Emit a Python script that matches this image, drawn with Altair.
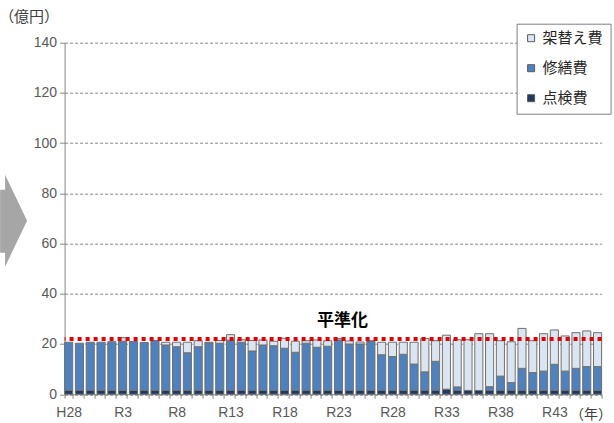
import altair as alt
import pandas as pd

# Fiscal years (Heisei 28 .. Reiwa 47)
years = ["H28", "H29", "H30"] + [f"R{i}" for i in range(1, 48)]
shown_labels = ["H28", "R3", "R8", "R13", "R18", "R23", "R28", "R33", "R38", "R43"]

# Costs per year (億円)
inspection = [1.5] * 50
inspection[years.index("R33")] = 2.0

repair = [19.2, 18.8, 19.2, 19.2, 19.4, 19.6, 19.5, 19.1, 19.9, 18.1,
          17.4, 15.0, 17.4, 18.9, 18.8, 20.0, 19.2, 15.7, 18.1, 17.8,
          16.8, 15.2, 18.8, 17.2, 17.6, 20.1, 18.5, 18.5, 19.5, 14.2,
          13.5, 14.4, 10.5, 7.4, 11.6, 0.0, 1.4, 0.0, 0.0, 1.5,
          5.7, 3.1, 8.8, 7.1, 7.7, 10.4, 7.7, 8.8, 9.5, 9.5]

replacement = [0.0, 0.0, 0.0, 0.0, 0.0, 1.4, 0.0, 0.0, 0.0, 1.1,
               1.8, 4.2, 2.4, 0.3, 1.1, 2.2, 1.0, 4.2, 2.0, 1.8,
               4.0, 4.4, 1.0, 2.9, 2.2, 0.6, 1.2, 0.8, 0.3, 5.0,
               5.7, 4.8, 8.7, 13.3, 8.2, 21.5, 18.8, 20.2, 22.6, 21.1,
               14.1, 16.3, 15.9, 12.7, 14.9, 13.7, 14.0, 14.2, 14.2, 13.5]

leveled = 22.0

series_names = ["架替え費", "修繕費", "点検費"]
series_colors = ["#dbe5f1", "#4f81bd", "#1f3a60"]
stack_rank = {"点検費": 0, "修繕費": 1, "架替え費": 2}

rows = []
for y, a, b, c in zip(years, inspection, repair, replacement):
    for name, v in (("点検費", a), ("修繕費", b), ("架替え費", c)):
        rows.append({"年度": y, "費目": name, "額": v, "順": stack_rank[name]})
df = pd.DataFrame(rows)

JP = "Noto Sans CJK JP"
NUM = "Liberation Sans"
GREY = "#868686"

x_enc = alt.X(
    "年度:N",
    sort=years,
    scale=alt.Scale(paddingInner=0.25, paddingOuter=0),
    axis=alt.Axis(
        title="（年）",
        titleFont=JP, titleFontSize=14, titleFontWeight="normal", titleColor="#404040",
        titleAngle=0, titleAlign="left", titleBaseline="middle",
        titleX=505, titleY=20,
        labelExpr="indexof(" + str(shown_labels) + ", datum.value) >= 0 ? datum.value : ''",
        labelAngle=0, labelFont=NUM, labelFontSize=14, labelColor="#595959",
        labelPadding=7, labelOverlap=False,
        tickBand="extent", tickSize=4, tickColor=GREY,
        domainColor=GREY, grid=False,
    ),
)

bars = alt.Chart(df).transform_filter("datum['額'] > 0").mark_bar(
    stroke="#6f6f6f", strokeWidth=1
).encode(
    x=x_enc,
    y=alt.Y(
        "額:Q",
        stack="zero",
        scale=alt.Scale(domain=[0, 140], nice=False),
        axis=alt.Axis(
            values=list(range(0, 141, 20)),
            title="（億円）",
            titleFont=JP, titleFontSize=15, titleFontWeight="normal", titleColor="#404040",
            titleAngle=0, titleAlign="center", titleBaseline="middle",
            titleX=-36, titleY=-26,
            labelFont=NUM, labelFontSize=14, labelColor="#595959", labelPadding=3,
            grid=True, gridColor=GREY, gridDash=[3, 2], gridWidth=1,
            domainColor=GREY, tickColor=GREY, tickSize=5,
        ),
    ),
    color=alt.Color(
        "費目:N",
        scale=alt.Scale(domain=series_names, range=series_colors),
        legend=alt.Legend(
            title=None, orient="none", legendX=452, legendY=-19,
            fillColor="white", strokeColor="#7f7f7f", padding=7,
            symbolType="square", symbolSize=49,
            symbolStrokeColor="#595959", symbolStrokeWidth=1,
            labelFont=JP, labelFontSize=15, labelColor="#262626",
            labelOffset=4, rowPadding=14,
        ),
    ),
    order=alt.Order("順:Q", sort="ascending"),
)

level_df = pd.DataFrame({"年度": ["R23"], "額": [leveled], "注": ["平準化"]})

level_line = alt.Chart(level_df).mark_rule(
    color="#e00000", strokeWidth=4, strokeDash=[4, 4]
).encode(y="額:Q")

level_text = alt.Chart(level_df).mark_text(
    font=JP, fontSize=17, fontWeight="bold", color="#000000",
    dx=4, dy=-18, baseline="middle"
).encode(x=alt.X("年度:N", sort=years), y="額:Q", text="注:N")

# block arrow on the left margin
arrow_shape = ("M -0.293 -0.674 L -0.185 -0.674 L -0.185 -1 L 0.293 0 "
               "L -0.185 1 L -0.185 0.696 L -0.293 0.696 Z")
arrow = alt.Chart(pd.DataFrame({"k": [0]})).mark_point(
    shape=arrow_shape, filled=True, size=8464, color="#a6a6a6",
    opacity=1, strokeWidth=0
).encode(x=alt.value(-51), y=alt.value(178))

chart = alt.layer(bars, level_line, level_text, arrow).properties(
    width=537, height=351.5,
    autosize=alt.AutoSizeParams(type="none"),
    padding={"left": 64.6, "top": 42.7, "right": 12, "bottom": 28.8},
).configure_view(stroke=None)

chart.save("out.html", embed_options={"renderer": "svg", "actions": False})
